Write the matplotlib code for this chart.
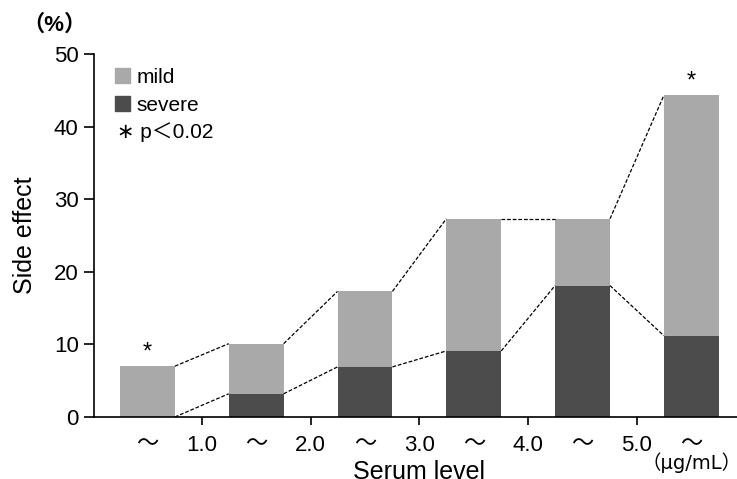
import numpy as np
import matplotlib
matplotlib.use('Agg')
import matplotlib.pyplot as plt
from matplotlib.patches import Patch

plt.rcParams['font.family'] = ['Liberation Sans', 'Noto Sans CJK JP', 'DejaVu Sans']

# values (%)
groups = ['～', '～', '～', '～', '～', '～']
bounds = ['1.0', '2.0', '3.0', '4.0', '5.0']
severe = [0.0, 3.2, 6.9, 9.1, 18.1, 11.2]
total = [7.0, 10.1, 17.3, 27.3, 27.3, 44.3]
mild = [t - s for t, s in zip(total, severe)]
signif = [True, False, False, False, False, True]

c_mild = '#a9a9a9'
c_severe = '#4c4c4c'
w = 0.505

fig = plt.figure(figsize=(7.37, 4.79), dpi=100)
ax = fig.add_axes([94/737, 1 - 417/479, 1 - 94/737, (417 - 54)/479])

x = np.arange(len(groups))
ax.bar(x, severe, w, color=c_severe, zorder=2)
ax.bar(x, mild, w, bottom=severe, color=c_mild, zorder=2)

# dashed connectors between neighbouring bars
for arr in (total, severe):
    for i in range(len(arr) - 1):
        ax.plot([x[i] + w/2, x[i+1] - w/2], [arr[i], arr[i+1]],
                color='black', lw=0.9, ls=(0, (3, 1.5)), zorder=3)

for i in range(len(groups)):
    if signif[i]:
        ax.text(x[i], total[i] + 1.9, '*', ha='center', va='center', fontsize=17)

ax.set_xlim(-0.491, 5.42)
ax.set_ylim(0, 50)
ax.set_yticks(np.arange(0, 51, 10))
ax.set_xticks(x[:-1] + 0.5)
ax.set_xticklabels(bounds)
ax.set_xticks(x, minor=True)
ax.set_xticklabels(groups, minor=True)
ax.tick_params(axis='x', which='major', length=6, width=1.2, labelsize=16, pad=7)
ax.tick_params(axis='x', which='minor', length=0, labelsize=16, pad=12)
ax.tick_params(axis='y', length=7, width=1.2, labelsize=16, pad=4)
for s in ('top', 'right'):
    ax.spines[s].set_visible(False)
for s in ('left', 'bottom'):
    ax.spines[s].set_linewidth(1.2)

ax.set_ylabel('Side effect', fontsize=18, labelpad=12)
fig.text(419/737, 1 - 460/479, 'Serum level', ha='center', va='top', fontsize=18)
fig.text(54/737, 1 - 25/479, '（%）', ha='center', va='center', fontsize=16,
         fontweight='bold')
fig.text(692/737, 1 - 463/479, '（μg/mL）', ha='center', va='center', fontsize=14,
         family=['DejaVu Sans', 'Noto Sans CJK JP'])

handles = [Patch(color=c_mild, label='mild'), Patch(color=c_severe, label='severe')]
ax.legend(handles=handles, loc='upper left', bbox_to_anchor=(0.02, 0.985),
          frameon=False, fontsize=15, handlelength=0.72, handleheight=0.72,
          handletextpad=0.3, labelspacing=0.45, borderaxespad=0)
ax.text(0.035, 0.785, '∗ p＜0.02', transform=ax.transAxes, fontsize=15,
        ha='left', va='center')

fig.savefig('out.png', dpi=100)
